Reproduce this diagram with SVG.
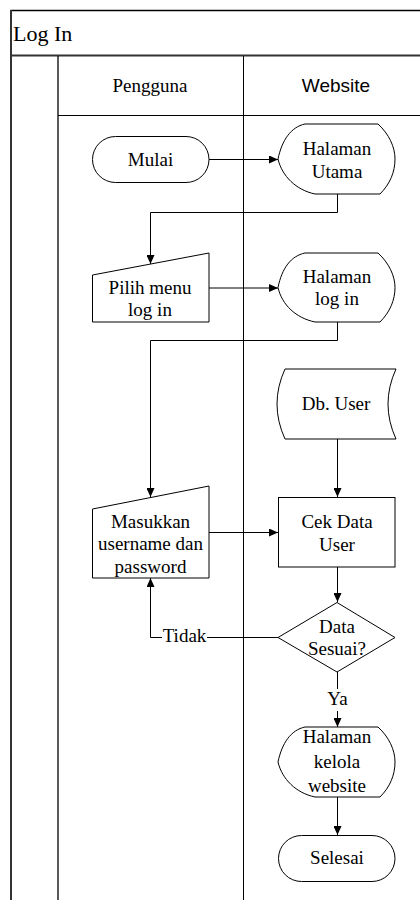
<svg xmlns="http://www.w3.org/2000/svg" width="420" height="900" viewBox="0 0 420 900">
<style>
.sh{fill:#fff;stroke:#000;stroke-width:1}
.ln{fill:none;stroke:#000;stroke-width:1}
.fr{fill:none;stroke:#000;stroke-width:1.3}
.t{font-family:"Liberation Serif","Times New Roman",serif;font-size:19px;fill:#000;text-anchor:middle}
.s{font-family:"Liberation Sans",Arial,sans-serif;font-size:19px;fill:#000;text-anchor:middle}
</style>
<defs>
<marker id="ah" markerUnits="userSpaceOnUse" markerWidth="9" markerHeight="8" refX="9" refY="4" orient="auto">
<path d="M0,0 L9,4 L0,8 Z" fill="#000"/>
</marker>
</defs>
<rect width="420" height="900" fill="#fff"/>
<g id="pool">
<line class="fr" x1="10.5" y1="10.5" x2="420" y2="10.5"/>
<line x1="11" y1="10" x2="11" y2="900" stroke="#333" stroke-width="2"/>
<line x1="10" y1="55.5" x2="420" y2="55.5" stroke="#333" stroke-width="2"/>
<text x="13" y="41" font-family="Liberation Serif,serif" font-size="22">Log In</text>
<line class="fr" x1="58" y1="56" x2="58" y2="900"/>
<line class="ln" x1="243.5" y1="56" x2="243.5" y2="900"/>
<line class="ln" x1="58" y1="115.5" x2="420" y2="115.5"/>
<text class="t" x="150" y="92">Pengguna</text>
<text class="s" x="336" y="92">Website</text>
</g>
<g id="connectors">
<line class="ln" x1="209" y1="159.5" x2="278" y2="159.5" marker-end="url(#ah)"/>
<polyline class="ln" points="337.5,194 337.5,212.5 150.5,212.5 150.5,264" marker-end="url(#ah)"/>
<line class="ln" x1="209" y1="288" x2="278" y2="288" marker-end="url(#ah)"/>
<polyline class="ln" points="337.5,322 337.5,340.5 150.5,340.5 150.5,497" marker-end="url(#ah)"/>
<line class="ln" x1="337.5" y1="439" x2="337.5" y2="497" marker-end="url(#ah)"/>
<line class="ln" x1="209" y1="532.5" x2="278" y2="532.5" marker-end="url(#ah)"/>
<line class="ln" x1="337.5" y1="567" x2="337.5" y2="602" marker-end="url(#ah)"/>
<polyline class="ln" points="278,637.5 150.5,637.5 150.5,578" marker-end="url(#ah)"/>
<rect x="162" y="627" width="45" height="20" fill="#fff"/>
<text class="t" x="184.5" y="642">Tidak</text>
<line class="ln" x1="337.5" y1="672" x2="337.5" y2="727" marker-end="url(#ah)"/>
<rect x="325" y="689" width="25" height="22" fill="#fff"/>
<text class="t" x="337.5" y="705">Ya</text>
<line class="ln" x1="337.5" y1="797" x2="337.5" y2="835" marker-end="url(#ah)"/>
</g>
<g id="mulai">
<rect class="sh" x="92.5" y="136.5" width="116.5" height="46" rx="23" ry="23"/>
<text class="t" x="150.5" y="165.5">Mulai</text>
</g>
<g id="halaman-utama">
<path class="sh" d="M278,159 C282,140 291,127 305,124 L378,124 C389,134 395,147 395,159 C395,172 390,184 380,194 L315,194 C296,190 282,176 278,159 Z"/>
<text class="t" x="337" y="154.5">Halaman</text>
<text class="t" x="337" y="178">Utama</text>
</g>
<g id="pilih-menu">
<path class="sh" d="M92.5,275 L209,253 L209,322 L92.5,322 Z"/>
<text class="t" x="150" y="294">Pilih menu</text>
<text class="t" x="150" y="315.5">log in</text>
</g>
<g id="halaman-login">
<path class="sh" d="M278,287.5 C282,268 291,256 305,253 L378,253 C389,263 395,276 395,287.5 C395,300 390,312 380,322 L315,322 C296,318 282,305 278,287.5 Z"/>
<text class="t" x="337" y="282.5">Halaman</text>
<text class="t" x="337" y="305">log in</text>
</g>
<g id="db-user">
<path class="sh" d="M285,369 L396,369 Q380,404 396,439 L285,439 Q269,404 285,369 Z"/>
<text class="t" x="336" y="410">Db. User</text>
</g>
<g id="cek-data">
<rect class="sh" x="278.5" y="497.5" width="116.5" height="69.5"/>
<text class="t" x="337" y="527.5">Cek Data</text>
<text class="t" x="337" y="550.5">User</text>
</g>
<g id="masukkan">
<path class="sh" d="M92.5,509 L209,486 L209,578 L92.5,578 Z"/>
<text class="t" x="150.5" y="527.5">Masukkan</text>
<text class="t" x="150.5" y="550">username dan</text>
<text class="t" x="150.5" y="572.5">password</text>
</g>
<g id="data-sesuai">
<path class="sh" d="M337,602.5 L395,637.5 L337,672 L278,637.5 Z"/>
<text class="t" x="337" y="632.5">Data</text>
<text class="t" x="337" y="654.5">Sesuai?</text>
</g>
<g id="halaman-kelola">
<path class="sh" d="M278,762 C282,743 291,730 305,727 L378,727 C389,737 395,750 395,762 C395,775 390,787 380,797 L315,797 C296,793 282,779 278,762 Z"/>
<text class="t" x="337" y="743">Halaman</text>
<text class="t" x="337" y="767.5">kelola</text>
<text class="t" x="337" y="791.5">website</text>
</g>
<g id="selesai">
<rect class="sh" x="278.5" y="835.5" width="116.5" height="46" rx="23" ry="23"/>
<text class="t" x="337" y="864">Selesai</text>
</g>
</svg>
